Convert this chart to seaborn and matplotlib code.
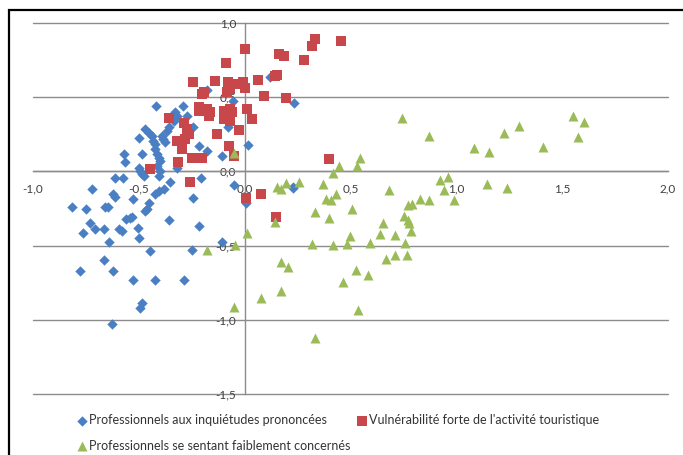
import numpy as np
import pandas as pd
import matplotlib
matplotlib.use("Agg")
import matplotlib.pyplot as plt
import seaborn as sns
from matplotlib.patches import Rectangle

# --- data ---
SERIES = [
    "Professionnels aux inquiétudes prononcées",
    "Vulnérabilité forte de l'activité touristique",
    "Professionnels se sentant faiblement concernés",
]

blue_x = [0.235, 0.121, 0.016, -0.049, 0.008, 0.228, -0.107,
          -0.175, -0.056, -0.076, -0.217, -0.178, -0.241,
          -0.205, -0.245, -0.217, -0.248, -0.288, -0.104, -0.359,
          -0.352, -0.382, -0.406, -0.422,
          -0.453, -0.461, -0.469, -0.529, -0.623, -0.611,
          -0.721, -0.815, -0.748, -0.658, -0.645,
          -0.732, -0.705, -0.663, -0.761, -0.595, -0.579,
          -0.559, -0.540, -0.532, -0.504, -0.500, -0.639,
          -0.445, -0.663, -0.776, -0.623, -0.527, -0.422,
          -0.485, -0.493, -0.627,
          -0.611, -0.576, -0.493, -0.485, -0.477, -0.500,
          -0.564, -0.568, -0.485, -0.500,
          -0.419, -0.291, -0.327, -0.272, -0.319, -0.335,
          -0.469, -0.453, -0.437, -0.430, -0.422,
          -0.390, -0.383, -0.375, -0.367, -0.359,
          -0.422, -0.414, -0.406, -0.398, -0.414, -0.398, -0.406,
          -0.319, 0.231]
blue_y = [0.457, 0.632, 0.175, -0.092, -0.211, -0.110, 0.103,
          0.545, 0.474, 0.300, 0.171, 0.137, 0.300,
          -0.043, -0.182, -0.369, -0.531, -0.735, -0.477, -0.330,
          -0.070, -0.117, -0.133, -0.155,
          -0.211, -0.256, -0.268, -0.184, -0.155, -0.171,
          -0.121, -0.238, -0.252, -0.238, -0.241,
          -0.346, -0.391, -0.386, -0.418, -0.386, -0.402,
          -0.324, -0.312, -0.305, -0.380, -0.452, -0.477,
          -0.537, -0.598, -0.672, -0.672, -0.735, -0.735,
          -0.890, -0.919, -1.027,
          -0.043, -0.043, 0.002, -0.020, -0.032, 0.025,
          0.059, 0.115, 0.119, 0.227,
          0.440, 0.440, 0.396, 0.373, 0.373, 0.339,
          0.283, 0.261, 0.238, 0.204, 0.182,
          0.238, 0.216, 0.194, 0.272, 0.295,
          0.148, 0.115, 0.088, 0.069, 0.036, 0.002, -0.032,
          0.025, -0.106]

red_x = [0.455, 0.334, 0.318, 0.279, 0.161, 0.185, 0.003, -0.088,
         -0.244, -0.138, -0.076, -0.036, -0.068, -0.009, 0.003, -0.083,
         0.066, 0.145, 0.153, 0.094, 0.197, -0.201, -0.193,
         -0.214, -0.217, -0.178, -0.170, -0.162,
         -0.099, -0.068, -0.060, -0.068, -0.099,
         0.011, 0.035, -0.024, -0.130, -0.071, -0.052,
         -0.356, -0.288, -0.272, -0.264, -0.319, -0.296, -0.280, -0.296,
         -0.249, -0.201, -0.312, -0.445, 0.397,
         -0.256, 0.008, 0.080, 0.148]
red_y = [0.875, 0.890, 0.845, 0.751, 0.789, 0.778, 0.823, 0.726,
         0.598, 0.609, 0.598, 0.587, 0.553, 0.598, 0.564, 0.531,
         0.616, 0.643, 0.649, 0.508, 0.492, 0.519, 0.531,
         0.430, 0.407, 0.418, 0.373, 0.396,
         0.407, 0.418, 0.396, 0.339, 0.351,
         0.418, 0.351, 0.279, 0.249, 0.171, 0.103,
         0.362, 0.328, 0.283, 0.250, 0.204, 0.182, 0.216, 0.148,
         0.092, 0.092, 0.059, 0.018, 0.081,
         -0.072, -0.182, -0.150, -0.305]

green_x = [0.745, 0.872, 1.082, 1.156, 1.224, 1.296, 1.412, 1.553, 1.603, 1.576,
           1.145, 1.242, 0.924, 0.959, 0.943, 0.989, 0.830, 0.870, 0.770, 0.791,
           0.751, 0.772, 0.775, 0.787, 0.759, 0.767, 0.712, 0.709, 0.638, 0.652,
           0.684, 0.594, 0.584, 0.668, 0.525, 0.537, 0.463, 0.508, 0.498, 0.486,
           0.420, 0.319, 0.335, 0.401, 0.385, 0.409, 0.430, 0.372, 0.420, 0.444,
           0.531, 0.547, 0.259, 0.198, 0.173, 0.152, 0.142, 0.173, 0.204, 0.173,
           0.076, 0.012, -0.047, -0.179, -0.049, 0.334, -0.049]
green_y = [0.361, 0.238, 0.159, 0.132, 0.256, 0.305, 0.166, 0.372, 0.332, 0.233,
           -0.083, -0.115, -0.061, -0.038, -0.126, -0.196, -0.184, -0.196, -0.227, -0.223,
           -0.301, -0.330, -0.346, -0.402, -0.481, -0.564, -0.566, -0.432, -0.425, -0.346,
           -0.128, -0.480, -0.700, -0.589, -0.664, -0.935, -0.744, -0.251, -0.435, -0.487,
           -0.496, -0.487, -0.274, -0.318, -0.188, -0.195, -0.155, -0.083, -0.009, 0.036,
           0.036, 0.086, -0.072, -0.076, -0.117, -0.105, -0.345, -0.614, -0.648, -0.809,
           -0.854, -0.413, -0.496, -0.531, -0.913, -1.126, 0.121]

x_ticks = [-1.0, -0.5, 0.0, 0.5, 1.0, 1.5, 2.0]
x_labels = ["-1,0", "-0,5", "0,0", "0,5", "1,0", "1,5", "2,0"]
y_ticks = [-1.5, -1.0, -0.5, 0.0, 0.5, 1.0]
y_labels = ["-1,5", "-1,0", "-0,5", "0,0", "0,5", "1,0"]

df = pd.concat([
    pd.DataFrame({"x": blue_x, "y": blue_y, "groupe": SERIES[0]}),
    pd.DataFrame({"x": red_x, "y": red_y, "groupe": SERIES[1]}),
    pd.DataFrame({"x": green_x, "y": green_y, "groupe": SERIES[2]}),
])

sns.set_style("white")
plt.rcParams["font.family"] = ["Lato", "DejaVu Sans"]

colors = ["#4A7FC4", "#C8474A", "#9BBB59"]
markers = ["D", "s", "^"]
sizes = [28, 50, 52]
grid_col = "#8c8c8c"

fig = plt.figure(figsize=(6.83, 4.55), dpi=100)
ax = fig.add_axes([0.048, 0.134, 0.93, 0.816])

# horizontal grid lines
for yv in y_ticks:
    ax.axhline(yv, color=grid_col, lw=1, zorder=0, clip_on=False)

for name, c, m, s in zip(SERIES, colors, markers, sizes):
    sub = df[df["groupe"] == name]
    sns.scatterplot(data=sub, x="x", y="y", ax=ax, color=c, marker=m, s=s,
                    linewidth=0, label=name, zorder=3, clip_on=False)

ax.set_xlim(-1.0, 2.0)
ax.set_ylim(-1.5, 1.0)
ax.set_xlabel("")
ax.set_ylabel("")

for side in ["top", "right"]:
    ax.spines[side].set_visible(False)
ax.spines["left"].set_position(("data", 0))
ax.spines["bottom"].set_position(("data", 0))
for side in ["left", "bottom"]:
    ax.spines[side].set_color(grid_col)
    ax.spines[side].set_linewidth(1)
    ax.spines[side].set_zorder(1)

ax.set_xticks(x_ticks)
ax.set_xticklabels(x_labels)
ax.set_yticks(y_ticks)
ax.set_yticklabels(y_labels)
ax.tick_params(axis="x", direction="out", length=4, width=1, color=grid_col,
               pad=5, labelsize=8.5, labelcolor="#404040")
ax.tick_params(axis="y", direction="out", length=4, width=1, color=grid_col,
               pad=2, labelsize=8.5, labelcolor="#404040")
ax.get_legend().remove()

# legend under the plot, Excel-like order
handles, labels = ax.get_legend_handles_labels()
order = [0, 2, 1]
fig.legend([handles[i] for i in order], [labels[i] for i in order],
           loc="upper left", bbox_to_anchor=(0.103, 0.103), ncol=2,
           frameon=False, fontsize=9, handletextpad=0.1, handlelength=0.9,
           columnspacing=0.5, labelspacing=1.05, borderpad=0,
           labelcolor="#333333")

# outer chart frame (cut by image edges)
fig.add_artist(Rectangle((9 / 683, -0.2), 1.2, 0.2 + (1 - 10 / 455),
                         transform=fig.transFigure, fill=False,
                         edgecolor="black", lw=1.6))

fig.savefig("out.png", dpi=100)
plt.close(fig)
